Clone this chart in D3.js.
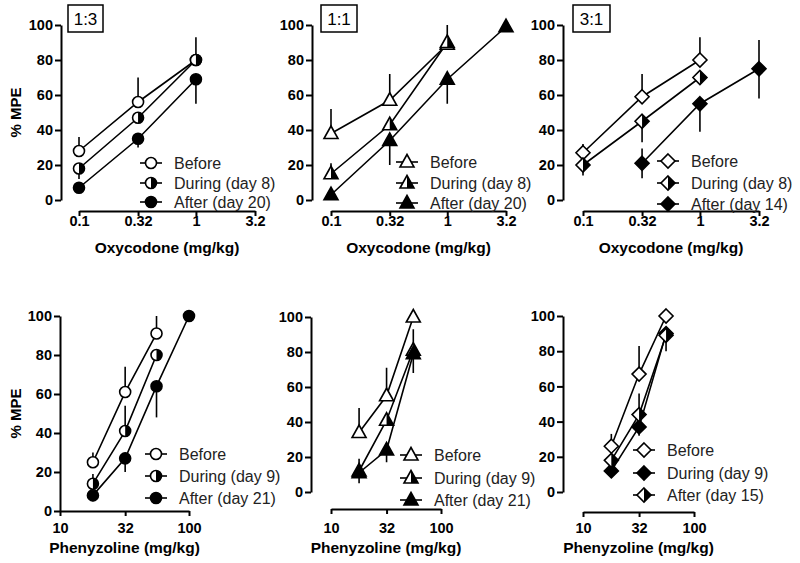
<!DOCTYPE html>
<html>
<head>
<meta charset="utf-8">
<title>dose response panels</title>
<style>
  body { margin: 0; background: #fff; }
  svg { display: block; font-family: "Liberation Sans", Arial, sans-serif; }
  .tick text { font-size: 14.5px; font-weight: bold; }
</style>
</head>
<body>
<div id="chart"></div>
<script src="https://cdn.jsdelivr.net/npm/d3@7"></script>
<script>
// doses and ticks
const oxyDoses = [0.1, 0.32, 1, 3.2];
const phenDoses = [18, 32, 56, 100];
const oxyTicks = [0.1, 0.32, 1, 3.2];
const phenTicks = [10, 32, 100];
const yTicks = [0, 20, 40, 60, 80, 100];

// oxycodone 1:3   (err = [up, down])
const oxy13Before = [28, 56, 80, null];
const oxy13BeforeErr = [[8, 0], [14, 0], [13, 0], null];
const oxy13During = [18, 47, 80, null];
const oxy13DuringErr = [[0, 6], [0, 0], [0, 0], null];
const oxy13After = [7, 35, 69, null];
const oxy13AfterErr = [[0, 0], [0, 5], [0, 14], null];

// oxycodone 1:1
const oxy11Before = [38, 57, 89, null];
const oxy11BeforeErr = [[14, 0], [15, 0], [11, 0], null];
const oxy11During = [15, 43, 90, null];
const oxy11DuringErr = [[6, 0], [0, 0], [0, 0], null];
const oxy11After = [3, 34, 69, 99];
const oxy11AfterErr = [[0, 0], [0, 14], [0, 14], [0, 0]];

// oxycodone 3:1
const oxy31Before = [27, 59, 80, null];
const oxy31BeforeErr = [[5, 0], [13, 0], [13, 0], null];
const oxy31During = [20, 45, 70, null];
const oxy31DuringErr = [[0, 6], [0, 12], [0, 0], null];
const oxy31After = [null, 21, 55, 75];
const oxy31AfterErr = [null, [8.5, 8.5], [0, 16], [16.5, 17]];

// phenyzoline 1:3
const phen13Before = [25, 61, 91, null];
const phen13BeforeErr = [[5, 0], [13, 0], [9, 0], null];
const phen13During = [14, 41, 80, null];
const phen13DuringErr = [[5, 0], [13, 0], [0, 0], null];
const phen13After = [8, 27, 64, 100];
const phen13AfterErr = [[0, 3], [0, 7], [0, 16], [0, 0]];

// phenyzoline 1:1
const phen11Before = [34, 55, 100, null];
const phen11BeforeErr = [[14, 0], [16, 0], [0, 0], null];
const phen11During = [12, 41, 81, null];
const phen11DuringErr = [[7, 0], [0, 0], [12, 0], null];
const phen11After = [11, 24, 79, null];
const phen11AfterErr = [[0, 6], [0, 7], [0, 11], null];

// phenyzoline 3:1
const phen31Before = [26, 67, 100, null];
const phen31BeforeErr = [[7, 0], [16, 0], [0, 0], null];
const phen31During = [12, 37, 90, null];
const phen31DuringErr = [[0, 4], [0, 5], [0, 10], null];
const phen31After = [18, 44, 89, null];
const phen31AfterErr = [[0, 0], [12, 0], [0, 0], null];

const oxyLabel = "Oxycodone (mg/kg)";
const phenLabel = "Phenyzoline (mg/kg)";

// panel layout
const panels = [
  { ratio: "1:3", label: oxyLabel, doses: oxyDoses, ticks: oxyTicks, yTitle: true,
    yx: 61, yTop: 25, yBot: 200, xAxisY: 211, xr: [79, 255], tickY: 226, titleY: 253,
    box: [68, 5, 35, 27], leg: [151, 163, 183, 202],
    series: [
      { name: "Before", shape: "circle", fill: "open", v: oxy13Before, e: oxy13BeforeErr },
      { name: "During (day 8)", shape: "circle", fill: "half", v: oxy13During, e: oxy13DuringErr },
      { name: "After (day 20)", shape: "circle", fill: "full", v: oxy13After, e: oxy13AfterErr }
    ] },
  { ratio: "1:1", label: oxyLabel, doses: oxyDoses, ticks: oxyTicks,
    yx: 312, yTop: 25, yBot: 200, xAxisY: 211, xr: [331, 506], tickY: 226, titleY: 253,
    box: [321, 5, 36, 27], leg: [407, 162, 183, 203],
    series: [
      { name: "Before", shape: "triangle", fill: "open", v: oxy11Before, e: oxy11BeforeErr },
      { name: "During (day 8)", shape: "triangle", fill: "half", v: oxy11During, e: oxy11DuringErr },
      { name: "After (day 20)", shape: "triangle", fill: "full", v: oxy11After, e: oxy11AfterErr }
    ] },
  { ratio: "3:1", label: oxyLabel, doses: oxyDoses, ticks: oxyTicks,
    yx: 563, yTop: 25, yBot: 200, xAxisY: 211, xr: [583, 759], tickY: 226, titleY: 253,
    box: [573, 5, 37, 27], leg: [668, 161, 183, 204],
    series: [
      { name: "Before", shape: "diamond", fill: "open", v: oxy31Before, e: oxy31BeforeErr },
      { name: "During (day 8)", shape: "diamond", fill: "half", v: oxy31During, e: oxy31DuringErr },
      { name: "After (day 14)", shape: "diamond", fill: "full", v: oxy31After, e: oxy31AfterErr }
    ] },
  { label: phenLabel, doses: phenDoses, ticks: phenTicks, yTitle: true,
    yx: 60, yTop: 316, yBot: 511, xAxisY: 511, xr: [60, 189], tickY: 533, titleY: 553,
    leg: [156, 454, 476, 498],
    series: [
      { name: "Before", shape: "circle", fill: "open", v: phen13Before, e: phen13BeforeErr },
      { name: "During (day 9)", shape: "circle", fill: "half", v: phen13During, e: phen13DuringErr },
      { name: "After (day 21)", shape: "circle", fill: "full", v: phen13After, e: phen13AfterErr }
    ] },
  { label: phenLabel, doses: phenDoses, ticks: phenTicks,
    yx: 311, yTop: 317, yBot: 492, xAxisY: 509, xr: [331, 441], tickY: 533, titleY: 553,
    leg: [411, 455, 478, 500],
    series: [
      { name: "Before", shape: "triangle", fill: "open", v: phen11Before, e: phen11BeforeErr },
      { name: "During (day 9)", shape: "triangle", fill: "half", v: phen11During, e: phen11DuringErr },
      { name: "After (day 21)", shape: "triangle", fill: "full", v: phen11After, e: phen11AfterErr }
    ] },
  { label: phenLabel, doses: phenDoses, ticks: phenTicks,
    yx: 563, yTop: 316, yBot: 492, xAxisY: 512, xr: [583, 694], tickY: 533, titleY: 553,
    leg: [644, 450, 473, 495],
    series: [
      { name: "Before", shape: "diamond", fill: "open", v: phen31Before, e: phen31BeforeErr },
      { name: "During (day 9)", shape: "diamond", fill: "full", v: phen31During, e: phen31DuringErr },
      { name: "After (day 15)", shape: "diamond", fill: "half", v: phen31After, e: phen31AfterErr }
    ] }
];

const W = 800, H = 563;
const svg = d3.select("#chart").append("svg").attr("width", W).attr("height", H);

// marker outlines and right-half paths
function shapePath(shape, half) {
  if (shape === "circle") {
    const r = 5.5;
    return half ? `M0,${-r}A${r},${r} 0 0 1 0,${r}Z`
                : `M${r},0A${r},${r} 0 1 1 ${-r},0A${r},${r} 0 1 1 ${r},0Z`;
  }
  if (shape === "triangle") {
    return half ? "M0,-7.5L7,5L0,5Z" : "M0,-7.5L7,5L-7,5Z";
  }
  return half ? "M0,-7L7,0L0,7Z" : "M0,-7L7,0L0,7L-7,0Z";
}

function drawMarker(g, x, y, s) {
  const m = g.append("g").attr("transform", `translate(${x},${y})`);
  m.append("path").attr("d", shapePath(s.shape, false))
    .attr("fill", s.fill === "full" ? "#000" : "#fff");
  if (s.fill === "half") m.append("path").attr("d", shapePath(s.shape, true)).attr("fill", "#000");
  m.append("path").attr("d", shapePath(s.shape, false))
    .attr("fill", "none").attr("stroke", "#000").attr("stroke-width", 1.6);
}

panels.forEach(p => {
  const g = svg.append("g");
  const x = d3.scaleLog().domain([p.ticks[0], p.ticks[p.ticks.length - 1]]).range(p.xr);
  const y = d3.scaleLinear().domain([0, 100]).range([p.yBot, p.yTop]);

  // y axis
  const ya = g.append("g").attr("transform", `translate(${p.yx},0)`)
    .call(d3.axisLeft(y).tickValues(yTicks).tickSize(6).tickPadding(2).tickSizeOuter(0))
    .attr("font-family", null).attr("font-size", null);
  ya.select(".domain").attr("stroke-width", 2);
  ya.selectAll(".tick line").attr("stroke-width", 2);
  ya.selectAll("text").attr("fill", "#000");

  // x axis
  const xa = g.append("g").attr("transform", `translate(0,${p.xAxisY})`)
    .call(d3.axisBottom(x).tickValues(p.ticks).tickFormat(d => String(d)).tickSize(5).tickSizeOuter(0))
    .attr("font-family", null).attr("font-size", null);
  xa.select(".domain").attr("stroke-width", 2);
  xa.selectAll(".tick line").attr("stroke-width", 2);
  xa.selectAll("text").attr("dy", null).attr("y", p.tickY - p.xAxisY).attr("fill", "#000");

  g.append("text").attr("x", (p.xr[0] + p.xr[1]) / 2).attr("y", p.titleY)
    .attr("text-anchor", "middle").attr("font-size", 15.5).attr("font-weight", "bold")
    .text(p.label);

  if (p.yTitle) {
    g.append("text").attr("transform", `translate(21,${(p.yTop + p.yBot) / 2}) rotate(-90)`)
      .attr("text-anchor", "middle").attr("font-size", 15).attr("font-weight", "bold")
      .text("% MPE");
  }

  if (p.box) {
    const [bx, by, bw, bh] = p.box;
    g.append("rect").attr("x", bx).attr("y", by).attr("width", bw).attr("height", bh)
      .attr("fill", "#fff").attr("stroke", "#000").attr("stroke-width", 1.5);
    g.append("text").attr("x", bx + bw / 2).attr("y", by + bh / 2 + 6)
      .attr("text-anchor", "middle").attr("font-size", 17).text(p.ratio);
  }

  const line = d3.line().defined(d => d.v != null).x(d => x(d.dose)).y(d => y(d.v));

  p.series.forEach(s => {
    const pts = p.doses.map((dose, i) => ({ dose, v: s.v[i], e: s.e[i] }));
    g.append("path").datum(pts).attr("d", line)
      .attr("fill", "none").attr("stroke", "#000").attr("stroke-width", 1.6);
    pts.filter(d => d.v != null).forEach(d => {
      const [up, down] = d.e;
      if (up > 0 || down > 0) {
        g.append("line").attr("x1", x(d.dose)).attr("x2", x(d.dose))
          .attr("y1", y(d.v + up)).attr("y2", y(d.v - down))
          .attr("stroke", "#000").attr("stroke-width", 1.6);
      }
    });
  });
  p.series.forEach(s => {
    p.doses.forEach((dose, i) => {
      if (s.v[i] != null) drawMarker(g, x(dose), y(s.v[i]), s);
    });
  });

  // legend
  const [cx, ...rows] = p.leg;
  p.series.forEach((s, i) => {
    g.append("line").attr("x1", cx - 11).attr("x2", cx + 11).attr("y1", rows[i]).attr("y2", rows[i])
      .attr("stroke", "#000").attr("stroke-width", 1.6);
    drawMarker(g, cx, rows[i], s);
    g.append("text").attr("x", cx + 23).attr("y", rows[i] + 5.5)
      .attr("font-size", 16).attr("fill", "#222").text(s.name);
  });
});
</script>
</body>
</html>
